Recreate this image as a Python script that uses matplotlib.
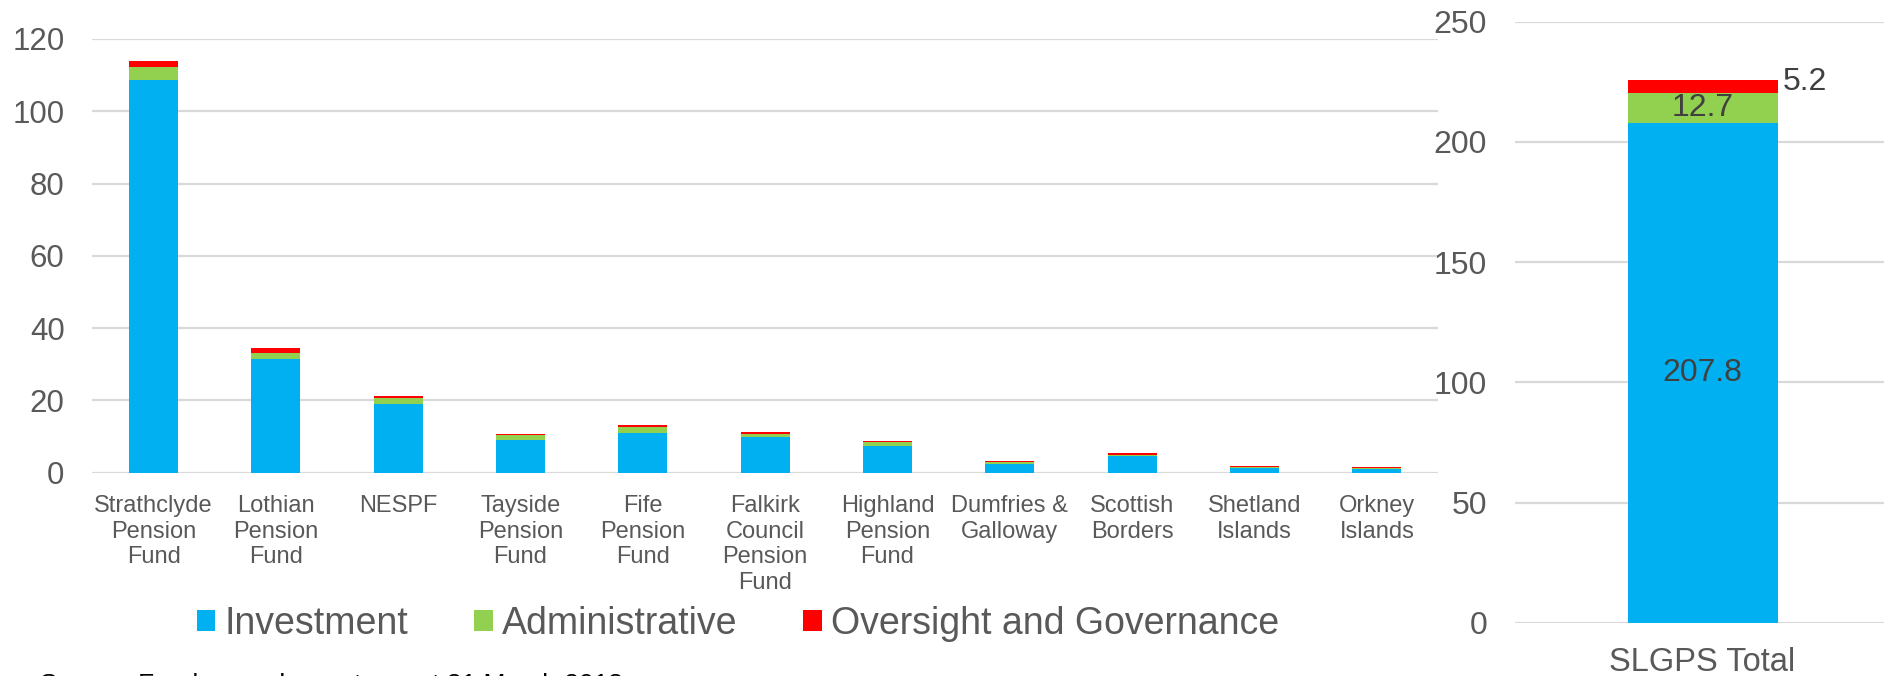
import matplotlib
matplotlib.use("Agg")
import matplotlib.pyplot as plt
from matplotlib.patches import Patch
import numpy as np

plt.rcParams['font.family'] = ['Liberation Sans', 'DejaVu Sans']

# ---------------- data ----------------
categories = ["Strathclyde\nPension\nFund", "Lothian\nPension\nFund", "NESPF",
              "Tayside\nPension\nFund", "Fife\nPension\nFund",
              "Falkirk\nCouncil\nPension\nFund", "Highland\nPension\nFund",
              "Dumfries &\nGalloway", "Scottish\nBorders", "Shetland\nIslands",
              "Orkney\nIslands"]
investment = [108.7, 31.5, 18.9, 9.0, 11.1, 9.9, 7.4, 2.5, 4.7, 1.4, 1.0]
administrative = [3.5, 1.7, 1.8, 1.4, 1.6, 0.8, 1.0, 0.5, 0.2, 0.25, 0.35]
oversight = [1.6, 1.4, 0.45, 0.3, 0.45, 0.55, 0.4, 0.25, 0.5, 0.2, 0.2]

total_category = ["SLGPS Total"]
total_investment = [207.8]
total_administrative = [12.7]
total_oversight = [5.2]

series_names = ["Investment", "Administrative", "Oversight and Governance"]
left_ticks = [0, 20, 40, 60, 80, 100, 120]
right_ticks = [0, 50, 100, 150, 200, 250]
source_text = "Source: Fund annual reports as at 31 March 2018"

# ---------------- style ----------------
BLUE = "#00B0F0"
GREEN = "#92D050"
RED = "#FF0000"
TXT = "#595959"
GRID = "#D9D9D9"
LBL = "#404040"

W, H = 1884, 676
fig = plt.figure(figsize=(W / 100, H / 100), dpi=100)


def fx(px):
    return px / W


def fy(py):
    return 1 - py / H


# left axes
axL = fig.add_axes([fx(92.4), fy(472.7), fx(1438 - 92.4), fy(39) - fy(472.7)])
x = np.arange(len(categories))
inv = np.array(investment)
adm = np.array(administrative)
ovs = np.array(oversight)
bw = 0.4
axL.bar(x, inv, bw, color=BLUE, zorder=3)
axL.bar(x, adm, bw, bottom=inv, color=GREEN, zorder=3)
axL.bar(x, ovs, bw, bottom=inv + adm, color=RED, zorder=3)
axL.set_xlim(-0.5, len(categories) - 0.5)
axL.set_ylim(0, 120)
axL.set_yticks(left_ticks)
axL.set_yticklabels([str(t) for t in left_ticks])
axL.set_xticks(x)
axL.set_xticklabels(categories, linespacing=1.22)
axL.tick_params(axis='y', length=0, pad=20, labelsize=22.5, labelcolor=TXT)
axL.tick_params(axis='x', length=0, pad=16, labelsize=17, labelcolor=TXT)
axL.grid(axis='y', color=GRID, linewidth=1.6, zorder=0)
for s in axL.spines.values():
    s.set_visible(False)

# right axes
axR = fig.add_axes([fx(1515), fy(623), fx(1890 - 1515), fy(21.6) - fy(623)])
xr = np.arange(len(total_category))
ti = np.array(total_investment)
ta = np.array(total_administrative)
to = np.array(total_oversight)
b1 = axR.bar(xr, ti, bw, color=BLUE, zorder=3)
b2 = axR.bar(xr, ta, bw, bottom=ti, color=GREEN, zorder=3)
b3 = axR.bar(xr, to, bw, bottom=ti + ta, color=RED, zorder=3)
axR.set_xlim(-0.5, 0.5)
axR.set_ylim(0, 250)
axR.set_yticks(right_ticks)
axR.set_yticklabels([str(t) for t in right_ticks])
axR.set_xticks(xr)
axR.set_xticklabels(total_category)
axR.tick_params(axis='y', length=0, pad=20, labelsize=23, labelcolor=TXT)
axR.tick_params(axis='x', length=0, pad=17, labelsize=23.5, labelcolor=TXT)
axR.grid(axis='y', color=GRID, linewidth=1.6, zorder=0)
for s in axR.spines.values():
    s.set_visible(False)

axR.bar_label(b1, labels=[f"{v:.1f}" for v in ti], label_type='center',
              fontsize=23, color=LBL)
axR.bar_label(b2, labels=[f"{v:.1f}" for v in ta], label_type='center',
              fontsize=23, color=LBL)
for xi, base, v in zip(xr, ti + ta, to):
    axR.annotate(f"{v:.1f}", xy=(xi + bw / 2, base + v / 2), xytext=(4, 3),
                 textcoords='offset points', ha='left', va='center',
                 fontsize=23, color=LBL)

# legend
handles = [Patch(facecolor=c, edgecolor='none') for c in (BLUE, GREEN, RED)]
leg = fig.legend(handles, series_names, loc='center', bbox_to_anchor=(fx(738), fy(624)),
                 ncol=3, frameon=False, fontsize=27, handlelength=0.5,
                 handleheight=0.5, handletextpad=0.24, columnspacing=1.76,
                 borderpad=0, borderaxespad=0)
for t in leg.get_texts():
    t.set_color(TXT)

# source (clipped at bottom edge as in the reference)
fig.text(fx(40), fy(673), source_text, fontsize=19, color="#000000",
         ha='left', va='top')

fig.savefig("out.png", dpi=100)
